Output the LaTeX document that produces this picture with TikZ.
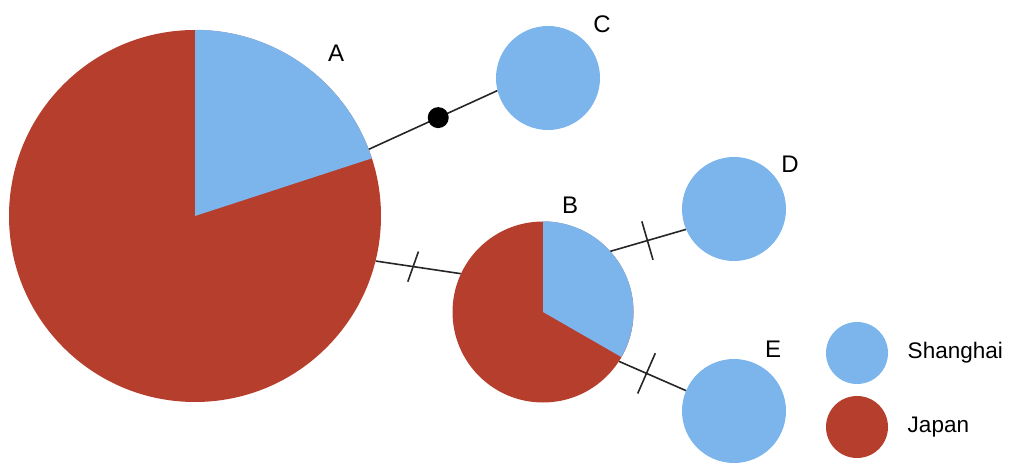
\documentclass[tikz,border=0pt]{standalone}
\usepackage{fontspec}
\setmainfont{Liberation Sans}
\usetikzlibrary{positioning}
\definecolor{shanghai}{RGB}{124,181,236}
\definecolor{japan}{RGB}{182,62,44}
\begin{document}
\begin{tikzpicture}[x=1pt, y=1pt,
        hap/.style={circle, inner sep=0pt, fill=shanghai},
        link/.style={draw=black!85, line width=1.6pt},
        hashmark/.style={sloped, rectangle, fill=black!85, inner sep=0pt, minimum width=1.6pt, minimum height=40pt},
        mutdot/.style={circle, fill=black, inner sep=0pt, minimum size=21pt},
        lbl/.style={font=\fontsize{24}{28}\selectfont},
        keytext/.style={font=\fontsize{22.5}{26}\selectfont}]
    \useasboundingbox (0,0) rectangle (1011,466);
    % pies
    \node[hap, fill=japan, minimum size=372pt] (A) at (195,250) {};
    \fill[shanghai] (A.center) -- (A.north) arc[start angle=90, end angle=18, radius=186pt] -- cycle;
    \node[hap, fill=japan, minimum size=181pt] (B) at (543,154) {};
    \fill[shanghai] (B.center) -- (B.north) arc[start angle=90, end angle=-30, radius=90.5pt] -- cycle;
    \foreach \n/\x/\y in {C/548/388, D/734/257, E/734/55}
        \node[hap, minimum size=104pt] (\n) at (\x,\y) {};
    % labels
    \foreach \n/\x/\y in {A/336/413, B/570/261, C/602/442, D/790/302, E/773/117}
        \node[lbl] (lbl\n) at (\x,\y) {\n};
    % links
    \draw[link] (A.21) -- node[mutdot, pos=0.54] (dotAC) {} (C.194);
    \draw[link] (A.-14) -- node[hashmark, pos=0.44, rotate=-11, minimum height=32pt] (tickAB) {} (B.155);
    \draw[link] (B.42) -- node[hashmark, pos=0.49] (tickBD) {} (D.-157);
    \draw[link] (B.-33) -- node[hashmark, pos=0.41, minimum height=44pt] (tickBE) {} (E.157);
    % legend
    \node[hap, minimum size=62pt] (keySH) at (857,113) {};
    \node[hap, fill=japan, minimum size=62pt] (keyJP) at (857,39) {};
    \node[keytext, right=16pt of keySH] (txtSH) {Shanghai};
    \node[keytext, right=16pt of keyJP] (txtJP) {Japan};
\end{tikzpicture}
\end{document}
